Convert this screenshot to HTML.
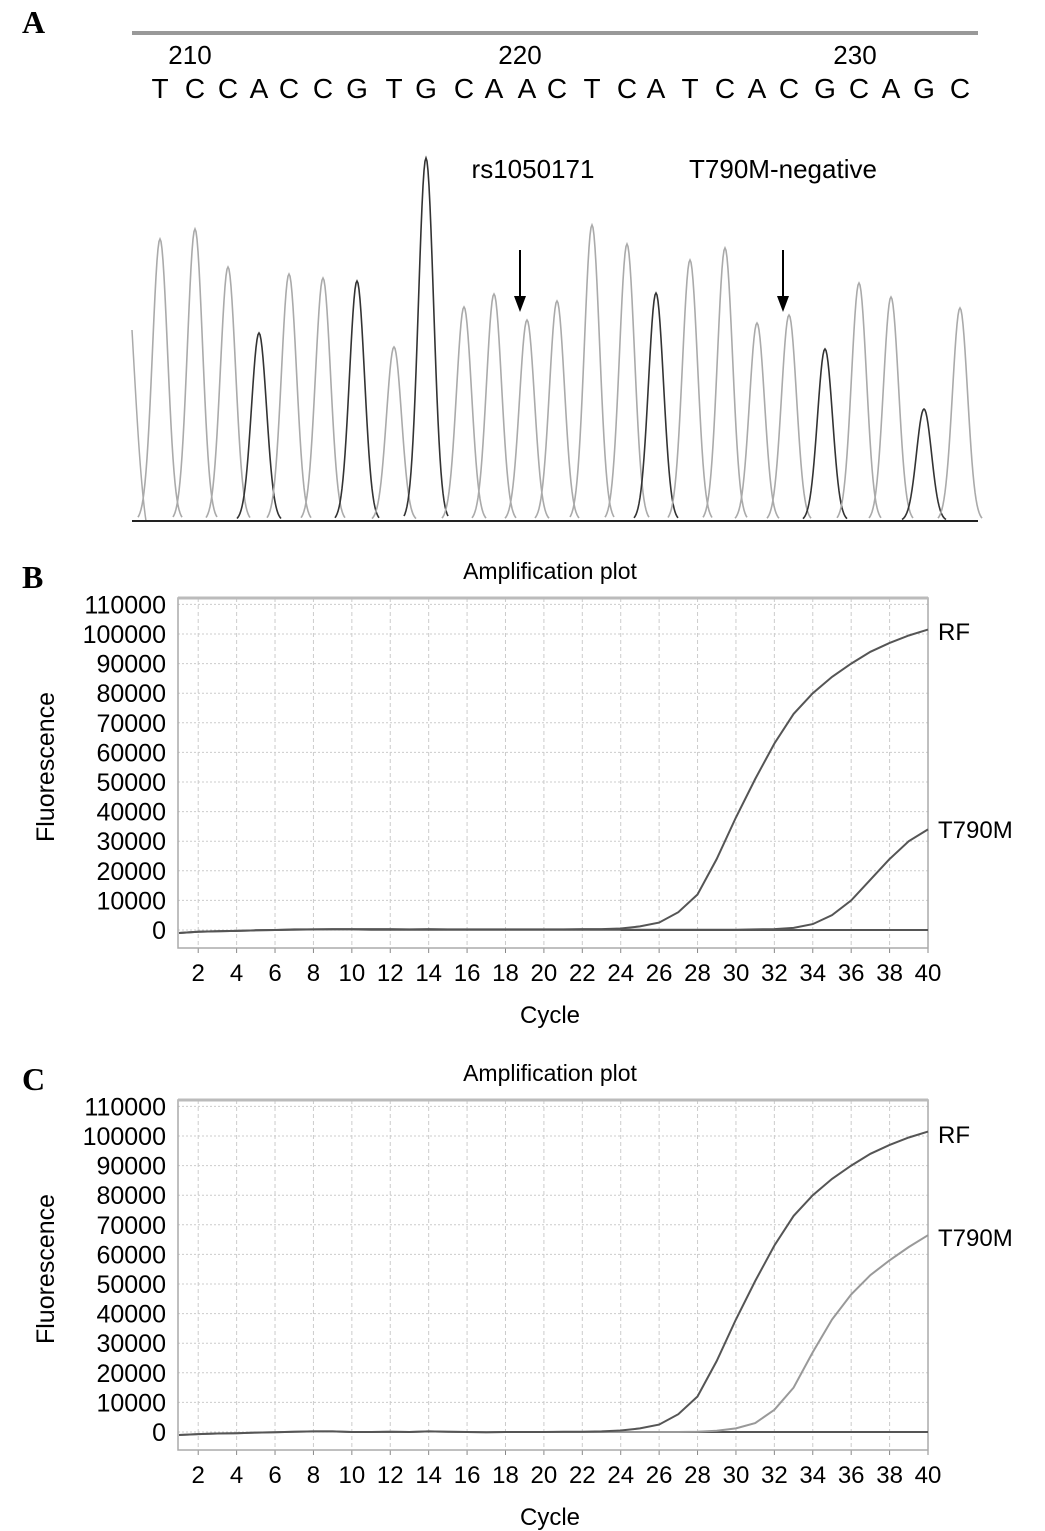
<!DOCTYPE html>
<html><head><meta charset="utf-8"><style>
html,body{margin:0;padding:0;background:#fff;}
svg{display:block;font-family:"Liberation Sans",sans-serif;}
</style></head><body>
<svg id="fig" width="1045" height="1531" viewBox="0 0 1045 1531">
<g id="panelA"></g>
<g id="panelB"></g>
<g id="panelC"></g>
</svg>
<script>
// ---- Panel A data ----
const baseLetters = ["T","C","C","A","C","C","G","T","G","C","A","A","C","T","C","A","T","C","A","C","G","C","A","G","C"];
const peakPos = [160,195,228,259,289,323,357,394,426,464,494,527,557,592,627,656,690,725,757,789,825,859,891,924,960];
const peakHeight = [282,292,254,188,247,243,240,174,363,214,227,201,220,296,277,228,261,273,198,206,172,238,224,112,213];
const peakDark = [0,0,0,1,0,0,1,0,1,0,0,0,0,0,0,1,0,0,0,0,1,0,0,1,0];
const posLabels = ["210","220","230"];
const posLabelX = [190,520,855];
// ---- Panel B/C data ----
const cycles = Array.from({length:40},(_,i)=>i+1);
const rfB = [-1000,-600,-400,-300,-100,0,200,200,300,300,300,300,200,300,200,200,200,200,200,200,200,300,300,500,1200,2500,6000,12000,24000,38000,51000,63000,73000,80000,85500,90000,94000,97000,99500,101500];
const t790B = [-1000,-600,-400,-300,-100,0,100,200,200,200,100,100,100,100,100,100,100,100,100,100,100,100,100,100,100,100,100,100,100,100,200,300,700,2000,5000,10000,17000,24000,30000,34000];
const rfC = [-1000,-700,-500,-400,-200,-100,100,200,200,0,0,100,0,200,100,0,-100,0,0,0,100,100,200,500,1200,2500,6000,12000,24000,38000,51000,63000,73000,80000,85500,90000,94000,97000,99500,101500];
const t790C = [-1000,-700,-500,-400,-200,-100,100,200,200,0,0,100,0,200,100,0,-100,0,0,0,0,0,0,0,0,0,0,100,400,1200,3000,7500,15000,27000,38000,46500,53000,58000,62500,66500];
const yTicks = [0,10000,20000,30000,40000,50000,60000,70000,80000,90000,100000,110000];
const xTicks = [2,4,6,8,10,12,14,16,18,20,22,24,26,28,30,32,34,36,38,40];

const NS="http://www.w3.org/2000/svg";
function mk(parent,tag,attrs,text){const e=document.createElementNS(NS,tag);for(const k in attrs)e.setAttribute(k,attrs[k]);if(text!==undefined)e.textContent=text;parent.appendChild(e);return e;}

// Panel A
const A=document.getElementById('panelA');
let t=mk(A,'text',{x:22,y:33,'font-family':'Liberation Serif,serif','font-weight':'bold','font-size':32},'A');


let r=mk(A,'rect',{x:132,y:31,width:846,height:4,fill:'#999'});


posLabels.forEach((l,i)=>{const e=mk(A,'text',{x:posLabelX[i],y:64,'font-size':26,'text-anchor':'middle'},l);

});
baseLetters.forEach((l,i)=>{const e=mk(A,'text',{x:peakPos[i],y:98,'font-size':28,'text-anchor':'middle'},l);

});
const baseY=521;
// left partial peak
mk(A,'path',{d:'M132,330 C136,400 140,480 146,521',fill:'none',stroke:'#aaa','stroke-width':1.5});
peakPos.forEach((x,i)=>{
  const h=peakHeight[i];let d='';
  for(let dx=-22;dx<=22;dx+=1){const y=baseY-h*Math.exp(-(dx*dx)/(2*7.5*7.5));d+=(dx===-22?'M':'L')+(x+dx)+','+y.toFixed(1);}
  const p=mk(A,'path',{d:d,fill:'none',stroke:peakDark[i]?'#333':'#aaa','stroke-width':1.6});
  
  
});
let bl=mk(A,'line',{x1:132,y1:baseY,x2:978,y2:baseY,stroke:'#222','stroke-width':2});


[[520,'rs1050171',533],[783,'T790M-negative',783]].forEach(([ax,lab,lx])=>{
  const g=mk(A,'g',{});
  
  
  mk(g,'line',{x1:ax,y1:250,x2:ax,y2:298,stroke:'#000','stroke-width':2});
  mk(g,'path',{d:`M${ax-6},296 L${ax+6},296 L${ax},312 Z`,fill:'#000'});
  const e=mk(A,'text',{x:lx,y:178,'font-size':26,'text-anchor':'middle'},lab);
  
  
});

// Amplification plots
function plot(G,letter,top,rf,t790,rfLabY,tLabY){
  const L=178,R=928,T=top,B=top+350,y0=top+332,yStep=29.6;
  const xs=c=>179+(c-1)*(R-179)/39;
  const ys=v=>y0-v/10000*yStep;
  let e=mk(G,'text',{x:22,y:T-10,'font-family':'Liberation Serif,serif','font-weight':'bold','font-size':32},letter);
  
  
  e=mk(G,'text',{x:550,y:T-19,'font-size':23,'text-anchor':'middle'},'Amplification plot');
  
  
  yTicks.forEach(v=>{
    const g=mk(G,'line',{x1:L,y1:ys(v),x2:R,y2:ys(v),stroke:'#ccc','stroke-dasharray':'2,2'});
    
    
    const tx=mk(G,'text',{x:166,y:ys(v)+9,'font-size':25,'text-anchor':'end'},String(v));
    
    
  });
  xTicks.forEach(c=>{
    const g=mk(G,'line',{x1:xs(c),y1:T,x2:xs(c),y2:B,stroke:'#ccc','stroke-dasharray':'4,3'});
    
    
    mk(G,'line',{x1:xs(c),y1:B,x2:xs(c),y2:B+5,stroke:'#888'});
    const tx=mk(G,'text',{x:xs(c),y:B+33,'font-size':24,'text-anchor':'middle'},String(c));
    
    
  });
  const box=mk(G,'rect',{x:L,y:T,width:R-L,height:B-T,fill:'none',stroke:'#aaa','stroke-width':1.5});
  
  
  mk(G,'line',{x1:L,y1:T,x2:R,y2:T,stroke:'#bbb','stroke-width':3});
  e=mk(G,'text',{x:550,y:B+75,'font-size':24,'text-anchor':'middle'},'Cycle');
  
  
  e=mk(G,'text',{x:0,y:0,'font-size':25,'text-anchor':'middle',transform:`translate(54,${(T+B)/2-6}) rotate(-90)`},'Fluorescence');
  
  
  // threshold/baseline line
  mk(G,'line',{x1:xs(24),y1:ys(0),x2:R,y2:ys(0),stroke:'#555','stroke-width':2});
  const line=(arr,col)=>arr.map((v,i)=>(i?'L':'M')+xs(cycles[i]).toFixed(1)+','+ys(v).toFixed(1)).join(' ');
  e=mk(G,'path',{d:line(t790,'#999'),fill:'none',stroke:letter==='C'?'#999':'#555','stroke-width':2});
  
  
  e=mk(G,'path',{d:line(rf),fill:'none',stroke:'#555','stroke-width':2});
  
  
  e=mk(G,'text',{x:938,y:rfLabY,'font-size':24},'RF');
  
  
  e=mk(G,'text',{x:938,y:tLabY,'font-size':24},'T790M');
  
  
}
plot(document.getElementById('panelB'),'B',598,rfB,t790B,640,838);
plot(document.getElementById('panelC'),'C',1100,rfC,t790C,1143,1246);
</script>
</body></html>
